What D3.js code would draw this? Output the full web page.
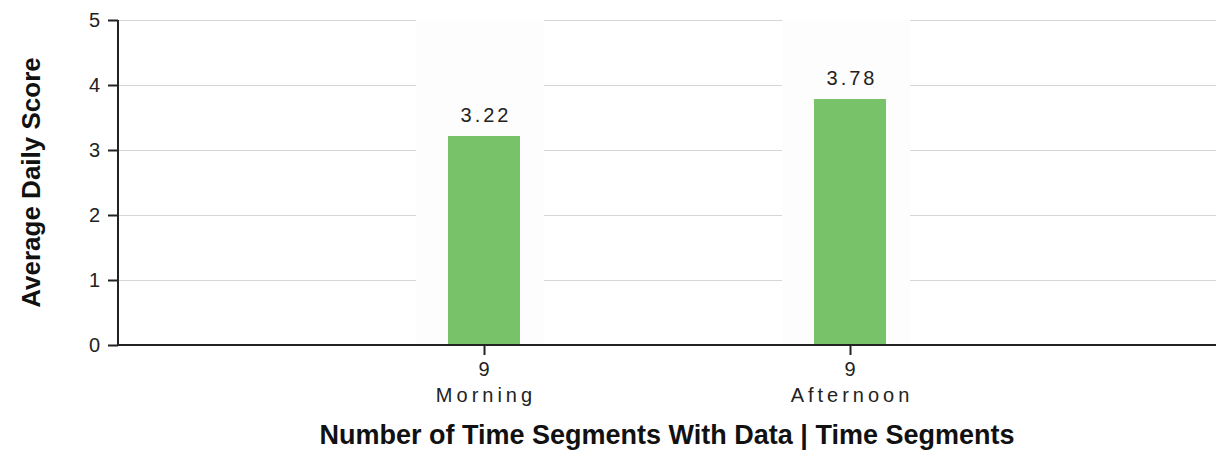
<!DOCTYPE html>
<html><head><meta charset="utf-8">
<script src="https://cdn.jsdelivr.net/npm/d3@7"></script>
<style>body{margin:0;background:#fff;}svg{display:block;font-family:"Liberation Sans",Arial,sans-serif;}</style>
</head><body>
<svg id="c" width="1220" height="462"></svg>
<script>
const categories = ["Morning", "Afternoon"];
const counts = ["9", "9"];
const values = [3.22, 3.78];
const yTicks = [0, 1, 2, 3, 4, 5];
const xTitle = "Number of Time Segments With Data | Time Segments";
const yTitle = "Average Daily Score";

const svg = d3.select("#c");
const m = {left: 118, right: 4, top: 20, bottom: 117};
const W = 1220, H = 462;
const x = d3.scalePoint().domain(categories).range([m.left, W - m.right]).padding(1);
const y = d3.scaleLinear().domain([0, 5]).range([H - m.bottom, m.top]);
const barW = 72;

// grid
svg.append("g").selectAll("line").data(yTicks.filter(d => d > 0)).join("line")
  .attr("x1", m.left).attr("x2", W - m.right)
  .attr("y1", d => y(d)).attr("y2", d => y(d))
  .attr("stroke", "#d6d6d6").attr("stroke-width", 1).attr("shape-rendering", "crispEdges");

// faint highlight columns
svg.append("g").selectAll("rect").data(categories).join("rect")
  .attr("x", d => x(d) - 68).attr("width", 128)
  .attr("y", y(5)).attr("height", y(0) - y(5))
  .attr("fill", "#fdfdfd");

// bars
svg.append("g").selectAll("rect").data(values).join("rect")
  .attr("x", (d, i) => x(categories[i]) - barW / 2).attr("width", barW)
  .attr("y", d => y(d)).attr("height", d => y(0) - y(d))
  .attr("fill", "#78c26a").attr("shape-rendering", "crispEdges");

// value labels
svg.append("g").selectAll("text").data(values).join("text")
  .attr("x", (d, i) => x(categories[i]) + 2).attr("y", d => y(d) - 14)
  .attr("text-anchor", "middle").attr("font-size", 20).attr("letter-spacing", 3)
  .attr("fill", "#222").text(d => d.toFixed(2));

// y axis
const yAxis = svg.append("g").attr("transform", `translate(${m.left},0)`)
  .call(d3.axisLeft(y).tickValues(yTicks).tickSize(10).tickPadding(8).tickFormat(d3.format("d")));
yAxis.select(".domain").attr("stroke", "#222").attr("stroke-width", 2).attr("d", `M0,${y(5)}V${y(0)}`);
yAxis.selectAll(".tick line").attr("stroke", "#222").attr("stroke-width", 2);
yAxis.selectAll("text").attr("font-size", 20).attr("fill", "#222").attr("font-family", "Liberation Sans, Arial, sans-serif");

// x axis
const xAxis = svg.append("g").attr("transform", `translate(0,${y(0)})`)
  .call(d3.axisBottom(x).tickSize(10).tickFormat(""));
xAxis.select(".domain").attr("stroke", "#222").attr("stroke-width", 2).attr("d", `M${m.left},0H${W - m.right}`);
xAxis.selectAll(".tick line").attr("stroke", "#222").attr("stroke-width", 2);

const xl = svg.append("g").selectAll("text").data(categories).join("text")
  .attr("text-anchor", "middle").attr("font-size", 20)
  .attr("letter-spacing", 4).attr("fill", "#222");
xl.append("tspan").attr("x", d => x(d) + 2).attr("y", 376).text((d, i) => counts[i]);
xl.append("tspan").attr("x", d => x(d) + 2).attr("y", 402).text(d => d);

svg.append("text").attr("x", (m.left + W - m.right) / 2).attr("y", 444)
  .attr("text-anchor", "middle").attr("font-size", 27).attr("font-weight", "bold")
  .attr("fill", "#111").text(xTitle);

svg.append("text").attr("transform", `translate(40,${(y(0) + y(5)) / 2}) rotate(-90)`)
  .attr("text-anchor", "middle").attr("font-size", 26).attr("font-weight", "bold")
  .attr("fill", "#111").text(yTitle);
</script>
</body></html>
